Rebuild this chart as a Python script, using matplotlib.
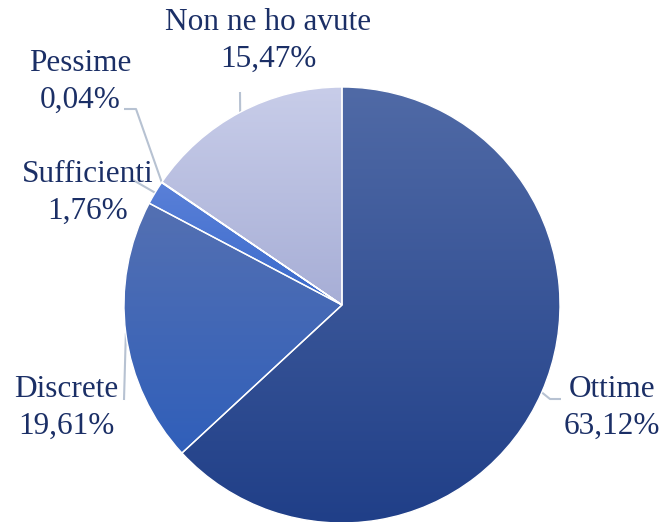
import numpy as np
import matplotlib.pyplot as plt
from matplotlib.colors import LinearSegmentedColormap

# Data
labels = ['Ottime', 'Discrete', 'Sufficienti', 'Pessime', 'Non ne ho avute']
values = [63.12, 19.61, 1.76, 0.04, 15.47]
pct_text = ['63,12%', '19,61%', '1,76%', '0,04%', '15,47%']

# gradient colours (top, bottom) per slice
grad_colors = [('#506aa6', '#203f88'),
               ('#5470b2', '#305fba'),
               ('#5a80d8', '#3a6acb'),
               ('#5a80d8', '#3a6acb'),
               ('#c8cde9', '#a7aed6')]

text_color = '#1b2f66'
line_color = '#b7c2d2'

W, H = 664, 522
cx, cy, R = 342, 522 - 305, 218

fig = plt.figure(figsize=(W / 100, H / 100), dpi=100)
ax = fig.add_axes([0, 0, 1, 1])

wedges, _ = ax.pie(values, startangle=90, counterclock=False,
                   center=(cx, cy), radius=R,
                   wedgeprops=dict(facecolor='none', edgecolor='white', linewidth=1.0))

for w, (c_top, c_bot) in zip(wedges, grad_colors):
    w.set_zorder(3)
    bb = w.get_path().get_extents(w.get_transform())
    bbd = ax.transData.inverted().transform_bbox(bb)
    cmap = LinearSegmentedColormap.from_list('g', [c_bot, c_top])
    grad = np.linspace(0, 1, 256).reshape(-1, 1)
    im = ax.imshow(grad, cmap=cmap, origin='lower', aspect='auto',
                   extent=[bbd.x0, bbd.x1, bbd.y0, bbd.y1], zorder=2,
                   interpolation='bicubic')
    im.set_clip_path(w)

# label positions (x, y of text center in pixel coords from top) and leader elbows
label_pos = {
    'Ottime': (612, 408),
    'Discrete': (66, 408),
    'Sufficienti': (88, 193),
    'Pessime': (80, 82),
    'Non ne ho avute': (268, 41),
}
elbows = {
    'Ottime': [(550, 399), (561, 399)],
    'Discrete': [(124, 400)],
    'Sufficienti': [(133, 180)],
    'Pessime': [(136, 109), (124, 109)],
    'Non ne ho avute': [(240, 92)],
}

font = dict(family=['Liberation Serif', 'DejaVu Serif'], size=22.5, color=text_color)

for w, lab, pt in zip(wedges, labels, pct_text):
    mid = np.deg2rad((w.theta1 + w.theta2) / 2)
    ax_x = cx + R * np.cos(mid)
    ax_y = cy + R * np.sin(mid)
    pts = [(ax_x, ax_y)] + [(x, H - y) for x, y in elbows[lab]]
    xs, ys = zip(*pts)
    ax.plot(xs, ys, color=line_color, lw=1.5, zorder=1, solid_capstyle='butt')
    tx, ty = label_pos[lab]
    ax.text(tx, H - ty, lab + '\n' + pt, ha='center', va='center',
            linespacing=1.35, zorder=5, **font)

ax.set_xlim(0, W)
ax.set_ylim(0, H)
ax.set_aspect('auto')
ax.axis('off')

fig.savefig('out.png', dpi=100)
